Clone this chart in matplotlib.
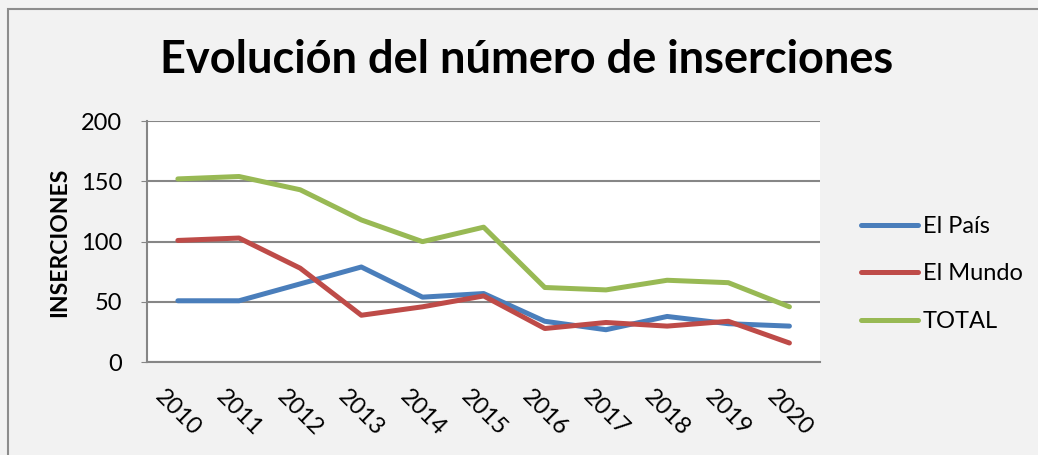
import matplotlib

matplotlib.use("Agg")
import matplotlib.pyplot as plt  # noqa: E402
from matplotlib.patches import Rectangle  # noqa: E402

years = ["2010", "2011", "2012", "2013", "2014", "2015", "2016", "2017", "2018", "2019", "2020"]
el_pais = [51, 51, 65, 79, 54, 57, 34, 27, 38, 32, 30]
el_mundo = [101, 103, 78, 39, 46, 55, 28, 33, 30, 34, 16]
total = [152, 154, 143, 118, 100, 112, 62, 60, 68, 66, 46]

W, H = 1038, 455
plt.rcParams["font.family"] = ["Lato", "DejaVu Sans"]

fig = plt.figure(figsize=(W / 100, H / 100), dpi=100)
fig.patch.set_facecolor("#f2f2f2")
# marco del gráfico (sólo se ven los bordes izquierdo y superior)
fig.patches.append(
    Rectangle((8 / W, -0.1), 1.1, (H - 9) / H + 0.1, transform=fig.transFigure,
              facecolor="none", edgecolor="#8c8c8c", lw=1.5)
)

ax = fig.add_axes([147.3 / W, 1 - 362.3 / H, (820 - 147.3) / W, (362.3 - 121) / H])
ax.set_facecolor("white")

x = range(len(years))
ax.plot(x, el_pais, color="#4a7ebb", lw=3.6, label="El País", solid_capstyle="round")
ax.plot(x, el_mundo, color="#be4b48", lw=3.6, label="El Mundo", solid_capstyle="round")
ax.plot(x, total, color="#98b954", lw=3.6, label="TOTAL", solid_capstyle="round")

ax.set_xlim(-0.5, len(years) - 0.5)
ax.set_ylim(0, 200)
ax.set_yticks([0, 50, 100, 150, 200])
ax.yaxis.grid(True, color="#868686", lw=1.5)
ax.set_axisbelow(True)
for side in ["top", "right"]:
    ax.spines[side].set_visible(False)
for side in ["left", "bottom"]:
    ax.spines[side].set_color("#868686")
    ax.spines[side].set_linewidth(1.5)

ax.set_xticks(list(x))
ax.set_xticklabels(years, rotation=-45, ha="center", va="top", fontsize=17)
ax.tick_params(axis="x", length=0, pad=17)
ax.tick_params(axis="y", length=4, color="#868686", labelsize=17, pad=14)

fig.text(60 / W, 1 - 242 / H, "INSERCIONES", rotation=90, ha="center", va="center",
         fontsize=16.5, fontweight="bold")
fig.text(527 / W, 1 - 60 / H, "Evolución del número de inserciones", ha="center", va="center",
         fontsize=32.5, fontweight="bold")

ax.legend(loc="center left", bbox_to_anchor=(852 / W, 1 - 274 / H), bbox_transform=fig.transFigure,
          frameon=False, fontsize=17, handlelength=2.4, handletextpad=0.2, labelspacing=1.12,
          borderaxespad=0)

fig.savefig("out.png", dpi=100, facecolor=fig.get_facecolor())
